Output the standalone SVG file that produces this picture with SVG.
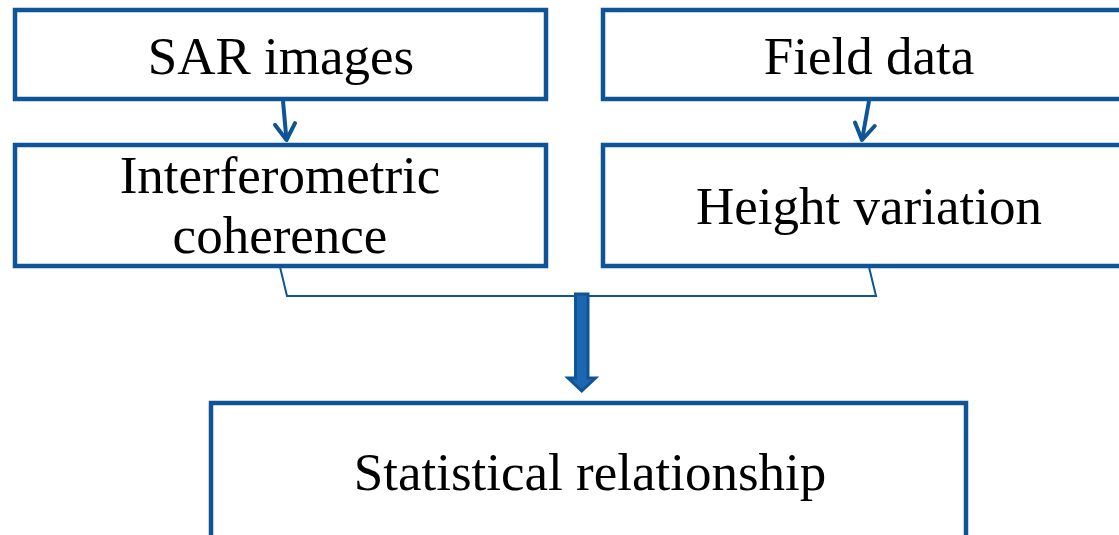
<svg xmlns="http://www.w3.org/2000/svg" width="1119" height="535" viewBox="0 0 1119 535">
  <style>
    .box { fill: #ffffff; stroke: #0f5496; stroke-width: 4.5; }
    .label { font-family: "Liberation Serif", "Times New Roman", serif; font-size: 53px; fill: #000000; text-anchor: middle; }
    .link { fill: none; stroke: #0f5496; stroke-width: 4; }
    .bracket { fill: none; stroke: #0f5496; stroke-width: 2; }
  </style>
  <defs>
    <marker id="chevron" viewBox="0 0 12 12" refX="10" refY="6" markerWidth="6" markerHeight="6" markerUnits="strokeWidth" orient="auto">
      <path d="M2,1 L10,6 L2,11" fill="none" stroke="#0f5496" stroke-width="2" stroke-linecap="round" stroke-linejoin="round"/>
    </marker>
  </defs>

  <rect width="1119" height="535" fill="#ffffff"/>

  <g id="sar-images">
    <rect class="box" x="15" y="10" width="531" height="89"/>
    <text class="label" x="281" y="74">SAR images</text>
  </g>

  <g id="field-data">
    <rect class="box" x="603" y="10" width="532" height="89"/>
    <text class="label" x="869" y="74">Field data</text>
  </g>

  <g id="coherence">
    <rect class="box" x="15" y="145" width="531" height="121"/>
    <text class="label" x="280" y="193">Interferometric</text>
    <text class="label" x="280" y="253">coherence</text>
  </g>

  <g id="height-variation">
    <rect class="box" x="603" y="145" width="532" height="121"/>
    <text class="label" x="869" y="224">Height variation</text>
  </g>

  <g id="statistical-relationship">
    <rect class="box" x="211" y="403" width="755" height="150"/>
    <text class="label" x="590" y="490">Statistical relationship</text>
  </g>

  <g id="connectors">
    <line class="link" x1="283" y1="101" x2="286.5" y2="140" marker-end="url(#chevron)"/>
    <line class="link" x1="869" y1="101" x2="862" y2="140" marker-end="url(#chevron)"/>
    <polyline class="bracket" points="280,267 287,296 876,296 869,267"/>
    <polygon points="575.5,294 588,294 588,378 595.5,378 581.75,391 568,378 575.5,378" fill="#1d66b1" stroke="#0f5496" stroke-width="3" stroke-linejoin="miter"/>
  </g>
</svg>
